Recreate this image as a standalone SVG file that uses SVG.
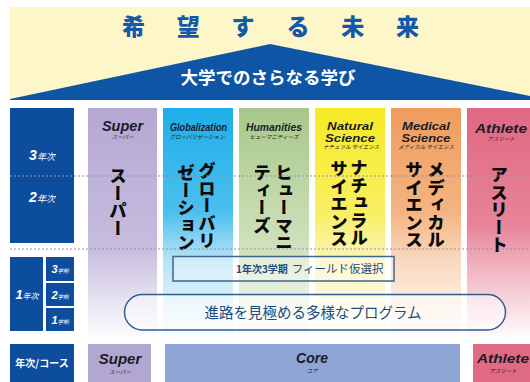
<svg xmlns="http://www.w3.org/2000/svg" width="530" height="382" viewBox="0 0 530 382">
<defs>
<style>
.en{font-family:"Liberation Sans",Arial,sans-serif;font-weight:900;font-style:italic;fill:#1b1b28;text-anchor:middle}
.sub{font-family:"Noto Sans CJK JP",sans-serif;font-style:italic;font-size:5.5px;fill:#222;text-anchor:middle}
.vt{font-family:"Noto Sans CJK JP",sans-serif;font-weight:900;font-size:17.5px;fill:#0a0a0a;writing-mode:vertical-rl}
.lbl{font-family:"Liberation Sans",Arial,"Noto Sans CJK JP",sans-serif;fill:#fff;text-anchor:middle}
.jp{font-family:"Noto Sans CJK JP",sans-serif}
.dark{fill:#0d4d9e}
.dot{stroke:#8f93a8;stroke-width:1.2;stroke-dasharray:2 2;fill:none}
</style>
<linearGradient id="gSuper" x1="0" y1="0" x2="0" y2="1"><stop offset="0" stop-color="#b5a8d3"/><stop offset="0.6" stop-color="#c6bcde"/><stop offset="1" stop-color="#fff"/></linearGradient>
<linearGradient id="gGlob" x1="0" y1="0" x2="0" y2="1"><stop offset="0" stop-color="#1eaee8"/><stop offset="0.45" stop-color="#4cbfee"/><stop offset="0.65" stop-color="#b5e2f6"/><stop offset="1" stop-color="#fff"/></linearGradient>
<linearGradient id="gHum" x1="0" y1="0" x2="0" y2="1"><stop offset="0" stop-color="#a7c889"/><stop offset="0.6" stop-color="#cfe1bd"/><stop offset="1" stop-color="#fff"/></linearGradient>
<linearGradient id="gNat" x1="0" y1="0" x2="0" y2="1"><stop offset="0" stop-color="#f7ea24"/><stop offset="0.45" stop-color="#f8ef62"/><stop offset="0.65" stop-color="#fbf5b8"/><stop offset="1" stop-color="#fff"/></linearGradient>
<linearGradient id="gMed" x1="0" y1="0" x2="0" y2="1"><stop offset="0" stop-color="#f09b5c"/><stop offset="0.45" stop-color="#f4b482"/><stop offset="0.65" stop-color="#f9d8bd"/><stop offset="1" stop-color="#fff"/></linearGradient>
<linearGradient id="gAth" x1="0" y1="0" x2="0" y2="1"><stop offset="0" stop-color="#e06882"/><stop offset="0.5" stop-color="#e78398"/><stop offset="0.7" stop-color="#f1b6c2"/><stop offset="1" stop-color="#fff"/></linearGradient>
</defs>

<rect width="530" height="382" fill="#fff"/>

<g id="top">
<rect x="10" y="7" width="520" height="93" fill="#fdf6c9"/>
<polygon points="10,99 270,44 530,96 530,100 10,100" fill="#0e56a5"/>
<text class="jp" y="35" font-size="23" font-weight="900" fill="#1458a8" text-anchor="middle"><tspan x="133.5">希</tspan><tspan x="188.3">望</tspan><tspan x="243.1">す</tspan><tspan x="297.9">る</tspan><tspan x="352.7">未</tspan><tspan x="407.5">来</tspan></text>
<text class="jp" x="268" y="84" font-size="17.5" font-weight="700" fill="#fff" text-anchor="middle">大学でのさらなる学び</text>
</g>

<g id="col-label">
<rect x="10" y="108" width="64" height="135" class="dark"/>
<text class="lbl" x="42" y="160"><tspan font-size="14" font-weight="900" font-style="italic">3</tspan><tspan class="jp" font-size="9" font-style="italic">年次</tspan></text>
<text class="lbl" x="42" y="202"><tspan font-size="14" font-weight="900" font-style="italic">2</tspan><tspan class="jp" font-size="9" font-style="italic">年次</tspan></text>
</g>

<g id="col-super">
<rect x="88" y="108" width="69" height="232" fill="url(#gSuper)"/>
<text class="en" x="122.5" y="131" font-size="14.5">Super</text>
<text class="sub" x="122.5" y="139">スーパー</text>
<text class="vt" x="118" y="167">スーパー</text>
</g>

<g id="col-glob">
<rect x="163" y="108" width="70" height="232" fill="url(#gGlob)"/>
<text class="en" x="198.5" y="131" font-size="10.5" textLength="57" lengthAdjust="spacingAndGlyphs">Globalization</text>
<text class="sub" x="197" y="139">グローバリゼーション</text>
<text class="vt" x="207" y="162">グローバリ</text>
<text class="vt" x="186" y="164">ゼーション</text>
</g>

<g id="col-hum">
<rect x="239" y="108" width="70" height="232" fill="url(#gHum)"/>
<text class="en" x="274" y="131" font-size="10.5" textLength="56" lengthAdjust="spacingAndGlyphs">Humanities</text>
<text class="sub" x="274" y="139">ヒューマニティーズ</text>
<text class="vt" x="284" y="164">ヒューマニ</text>
<text class="vt" x="262" y="164">ティーズ</text>
</g>

<g id="col-nat">
<rect x="315" y="108" width="70" height="232" fill="url(#gNat)"/>
<text class="en" x="350" y="130" font-size="11" textLength="46" lengthAdjust="spacingAndGlyphs">Natural</text>
<text class="en" x="350" y="141.5" font-size="11" textLength="50" lengthAdjust="spacingAndGlyphs">Science</text>
<text class="sub" x="351" y="149">ナチュラル サイエンス</text>
<text class="vt" x="359" y="159">ナチュラル</text>
<text class="vt" x="339" y="160">サイエンス</text>
</g>

<g id="col-med">
<rect x="391" y="108" width="70" height="232" fill="url(#gMed)"/>
<text class="en" x="426" y="130" font-size="11" textLength="48" lengthAdjust="spacingAndGlyphs">Medical</text>
<text class="en" x="426" y="141.5" font-size="11" textLength="49" lengthAdjust="spacingAndGlyphs">Science</text>
<text class="sub" x="426" y="149">メディカル サイエンス</text>
<text class="vt" x="436" y="161">メディカル</text>
<text class="vt" x="414" y="161">サイエンス</text>
</g>

<g id="col-ath">
<rect x="467" y="108" width="63" height="232" fill="url(#gAth)"/>
<text class="en" x="501" y="133" font-size="13" textLength="52" lengthAdjust="spacingAndGlyphs">Athlete</text>
<text class="sub" x="501" y="141">アスリート</text>
<text class="vt" x="499" y="166">アスリート</text>
</g>

<g id="year1">
<rect x="10" y="257" width="33" height="74" class="dark"/>
<text class="lbl" x="27" y="299"><tspan font-size="13" font-weight="900" font-style="italic">1</tspan><tspan class="jp" font-size="8" font-style="italic">年次</tspan></text>
<rect x="46" y="257" width="28" height="24" class="dark"/>
<text class="lbl" x="60" y="273"><tspan font-size="11" font-weight="900" font-style="italic">3</tspan><tspan class="jp" font-size="5.5" font-style="italic">学期</tspan></text>
<rect x="46" y="283" width="28" height="23" class="dark"/>
<text class="lbl" x="60" y="299"><tspan font-size="11" font-weight="900" font-style="italic">2</tspan><tspan class="jp" font-size="5.5" font-style="italic">学期</tspan></text>
<rect x="46" y="308" width="28" height="23" class="dark"/>
<text class="lbl" x="60" y="324"><tspan font-size="11" font-weight="900" font-style="italic">1</tspan><tspan class="jp" font-size="5.5" font-style="italic">学期</tspan></text>
</g>

<g id="connectors">
<line x1="10" y1="176" x2="530" y2="176" class="dot"/>
<line x1="10" y1="249" x2="530" y2="249" class="dot"/>
</g>

<g id="field-select">
<rect x="173" y="256.5" width="221" height="24.5" fill="#ffffff" fill-opacity="0.35" stroke="#3b6690" stroke-width="1.5"/>
<text class="jp" x="236" y="273" fill="#1f4b7c"><tspan font-size="10" font-weight="700">1年次3学期</tspan><tspan font-size="11.5" dx="4">フィールド仮選択</tspan></text>
</g>

<g id="program">
<rect x="124.5" y="294.5" width="381" height="35.5" rx="17.75" fill="#ffffff" fill-opacity="0.45" stroke="#2f5f8f" stroke-width="1.5"/>
<text class="jp" x="313" y="317.5" font-size="14.5" fill="#1f4b7c" text-anchor="middle">進路を見極める多様なプログラム</text>
</g>

<g id="row-course">
<rect x="10" y="344" width="64" height="38" class="dark"/>
<text class="lbl jp" x="42" y="367" font-size="10" font-weight="700">年次/コース</text>
</g>

<g id="bottom-super">
<rect x="88" y="344" width="63" height="38" fill="#b1a7d1"/>
<text class="en" x="120" y="364" font-size="15">Super</text>
<text class="sub" x="120" y="374">スーパー</text>
</g>

<g id="bottom-core">
<rect x="165" y="344" width="295" height="38" fill="#8ea5d5"/>
<text class="en" x="312" y="363" font-size="14">Core</text>
<text class="sub" x="312" y="373">コア</text>
</g>

<g id="bottom-athlete">
<rect x="473" y="344" width="57" height="38" fill="#e06a84"/>
<text class="en" x="503" y="363" font-size="13.5" textLength="52" lengthAdjust="spacingAndGlyphs">Athlete</text>
<text class="sub" x="503" y="373">アスリート</text>
</g>
</svg>
